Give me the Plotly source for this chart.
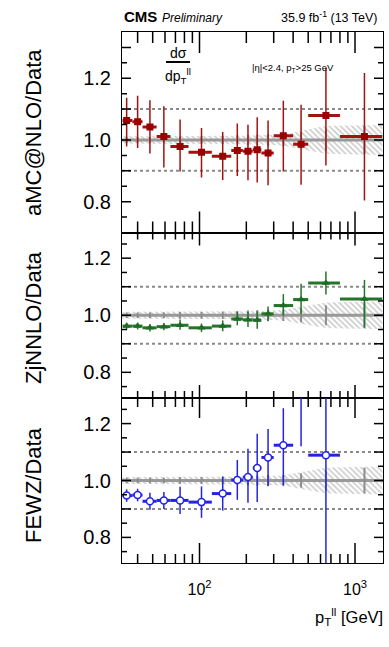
import plotly.graph_objects as go

# ---------------- data ----------------
bin_edges = [32, 37, 43, 53, 65, 85, 120, 160, 190, 220, 250, 300, 400, 500, 800, 1500]
bin_centers = [34, 40, 48, 59, 75, 103, 141, 175, 205, 235, 276, 346, 450, 650, 1150]

amc_ratio = [1.063, 1.059, 1.042, 1.011, 0.979, 0.960, 0.947, 0.966, 0.963, 0.968, 0.958, 1.014, 0.986, 1.079, 1.011]
amc_up = [0.074, 0.084, 0.087, 0.098, 0.087, 0.079, 0.079, 0.087, 0.086, 0.106, 0.105, 0.113, 0.128, 0.154, 0.206]
amc_down = [0.084, 0.085, 0.086, 0.100, 0.081, 0.082, 0.077, 0.083, 0.094, 0.106, 0.105, 0.116, 0.131, 0.162, 0.207]

zj_ratio = [0.962, 0.962, 0.956, 0.960, 0.965, 0.956, 0.962, 0.987, 0.984, 0.983, 1.005, 1.034, 1.055, 1.113, 1.057]
zj_up = [0.012, 0.012, 0.013, 0.013, 0.020, 0.015, 0.020, 0.025, 0.027, 0.030, 0.026, 0.040, 0.055, 0.040, 0.067]
zj_down = [0.012, 0.012, 0.013, 0.013, 0.016, 0.015, 0.018, 0.022, 0.025, 0.030, 0.026, 0.035, 0.050, 0.040, 0.100]

fewz_ratio = [0.947, 0.949, 0.927, 0.930, 0.930, 0.924, 0.954, 1.002, 1.012, 1.044, 1.081, 1.124, 1.350, 1.089, None]
fewz_up = [0.022, 0.022, 0.030, 0.030, 0.048, 0.055, 0.060, 0.070, 0.100, 0.120, 0.100, 0.130, 0.200, 0.450, None]
fewz_down = [0.022, 0.022, 0.030, 0.030, 0.048, 0.055, 0.060, 0.070, 0.090, 0.120, 0.100, 0.140, 0.230, 0.450, None]

data_stat = [0.010, 0.010, 0.010, 0.010, 0.012, 0.012, 0.013, 0.015, 0.017, 0.018, 0.020, 0.020, 0.025, 0.035, 0.045]
data_band = [0.012, 0.012, 0.012, 0.012, 0.012, 0.012, 0.013, 0.013, 0.014, 0.015, 0.016, 0.018, 0.030, 0.045, 0.048]

panel_titles = ["aMC@NLO/Data", "ZjNNLO/Data", "FEWZ/Data"]
x_major_ticks = [100, 1000]
x_major_text = ["10<sup>2</sup>", "10<sup>3</sup>"]
x_minor_ticks = [40, 50, 60, 70, 80, 90, 200, 300, 400, 500, 600, 700, 800, 900]
y_label_vals = [0.8, 1.0, 1.2]
y_major_ticks = [0.8, 0.9, 1.0, 1.1, 1.2, 1.3]
y_minor_ticks = [0.75, 0.85, 0.95, 1.05, 1.15, 1.25]

# ---------------- figure ----------------
W, H = 389, 647
ML, MR, MT, MB = 122, 6, 32, 84
PW = W - ML - MR
PH = H - MT - MB
FONT = "Liberation Sans, Arial, Helvetica, sans-serif"
XRANGE = [1.5016, 3.18]
TICK_COLOR = "black"

fig = go.Figure()

left_err = [c - lo for c, lo in zip(bin_centers, bin_edges[:-1])]
right_err = [hi - c for c, hi in zip(bin_centers, bin_edges[1:])]

band_x = [bin_edges[0]] + bin_centers + [bin_edges[-1]]
band_u = [data_band[0]] + data_band + [data_band[-1]]

series = [
    (amc_ratio, amc_up, amc_down, "#a31212", dict(symbol="square", size=7, color="#9a0000")),
    (zj_ratio, zj_up, zj_down, "#24742a", dict(symbol="triangle-up", size=7, color="#1f6b24")),
    (fewz_ratio, fewz_up, fewz_down, "#2424e0",
     dict(symbol="circle", size=7, color="white", line=dict(color="#2424e0", width=1.5))),
]

ranges = [[0.70, 1.35], [0.71, 1.29], [0.71, 1.29]]
heights_px = [200.5, 165.5, 165]
doms = [[330.5 / PH, 1.0], [165 / PH, 330.5 / PH], [0.0, 165 / PH]]
xtick_len = [(21, 11), (13, 7), (20, 9)]
ytick_len = (9, 5)

for i in range(3):
    xa = "x" if i == 0 else f"x{i+1}"
    ya = "y" if i == 0 else f"y{i+1}"
    r = ranges[i]
    # hatched data uncertainty band
    fig.add_trace(go.Scatter(x=band_x, y=[1 - u for u in band_u], mode="lines",
                             line=dict(width=0), xaxis=xa, yaxis=ya, showlegend=False, hoverinfo="skip"))
    fig.add_trace(go.Scatter(x=band_x, y=[1 + u for u in band_u], mode="lines",
                             line=dict(width=0), fill="tonexty", fillcolor="rgba(0,0,0,0)",
                             fillpattern=dict(shape="\\", fgcolor="#999999", bgcolor="rgba(0,0,0,0)",
                                              size=4, solidity=0.4),
                             xaxis=xa, yaxis=ya, showlegend=False, hoverinfo="skip"))
    # data stat error bars at unity
    fig.add_trace(go.Scatter(x=bin_centers, y=[1.0] * len(bin_centers), mode="markers",
                             marker=dict(size=1, color="rgba(0,0,0,0)"),
                             error_y=dict(type="data", array=data_stat, color="#8c8c8c", thickness=2, width=0),
                             xaxis=xa, yaxis=ya, showlegend=False, hoverinfo="skip"))
    vals, up, dn, col, mk = series[i]
    fig.add_trace(go.Scatter(x=bin_centers, y=vals, mode="markers", marker=mk,
                             error_x=dict(type="data", symmetric=False, array=right_err, arrayminus=left_err,
                                          color=col, thickness=3, width=0),
                             error_y=dict(type="data", symmetric=False, array=up, arrayminus=dn,
                                          color=col, thickness=1.5, width=0),
                             xaxis=xa, yaxis=ya, showlegend=False))

    # reference lines
    for yv, dash, w, c in [(1.0, "solid", 3, "#999999"), (1.1, "dot", 2, "#8a8a8a"), (0.9, "dot", 2, "#8a8a8a")]:
        fig.add_shape(type="line", xref=f"{xa} domain", yref=ya, x0=0, x1=1, y0=yv, y1=yv,
                      line=dict(color=c, width=w, dash=dash), layer="below")

    # tick marks as shapes (ROOT style: inside, on all four sides)
    mj, mn = xtick_len[i]
    hp = heights_px[i]
    for tv, tl in [(x_major_ticks, mj), (x_minor_ticks, mn)]:
        for v in tv:
            for y0, y1 in [(0, tl / hp), (1 - tl / hp, 1)]:
                fig.add_shape(type="line", xref=xa, yref=f"{ya} domain", x0=v, x1=v, y0=y0, y1=y1,
                              line=dict(color=TICK_COLOR, width=1.5), layer="above")
    for tv, tl in [(y_major_ticks, ytick_len[0]), (y_minor_ticks, ytick_len[1])]:
        for v in tv:
            if not (r[0] < v < r[1]):
                continue
            for x0, x1 in [(0, tl / PW), (1 - tl / PW, 1)]:
                fig.add_shape(type="line", xref=f"{xa} domain", yref=ya, x0=x0, x1=x1, y0=v, y1=v,
                              line=dict(color=TICK_COLOR, width=1.5), layer="above")

    xdict = dict(type="log", range=XRANGE, domain=[0, 1], anchor=ya,
                 showline=True, linecolor="black", linewidth=1, mirror=True,
                 ticks="", tickmode="array", tickvals=x_major_ticks, ticktext=x_major_text,
                 showgrid=False, zeroline=False,
                 showticklabels=(i == 2), tickfont=dict(family=FONT, size=16, color="black"),
                 ticklabelstandoff=12)
    ydict = dict(range=r, domain=doms[i], anchor=xa,
                 showline=True, linecolor="black", linewidth=1, mirror=True,
                 ticks="", tickmode="array", tickvals=y_label_vals, ticktext=[f"{v:.1f}" for v in y_label_vals],
                 showgrid=False, zeroline=False,
                 tickfont=dict(family=FONT, size=20, color="black"), ticklabelstandoff=6)
    fig.update_layout(**{("xaxis" if i == 0 else f"xaxis{i+1}"): xdict,
                         ("yaxis" if i == 0 else f"yaxis{i+1}"): ydict})

# ---------------- annotations ----------------
def px2paper_x(px):
    return (px - ML) / PW

def px2paper_y(py):
    return (H - MB - py) / PH

centers_y = [133, 318, 485]
ann = []
for t, cy in zip(panel_titles, centers_y):
    ann.append(dict(text=t, x=px2paper_x(33), y=px2paper_y(cy), xref="paper", yref="paper",
                    textangle=-90, showarrow=False, xanchor="center", yanchor="middle",
                    font=dict(family=FONT, size=22, color="black")))

ann += [
    dict(text="<b>CMS</b>", x=px2paper_x(122), y=px2paper_y(17), xanchor="left", yanchor="middle",
         font=dict(family=FONT, size=15, color="black")),
    dict(text="<i>Preliminary</i>", x=px2paper_x(160), y=px2paper_y(18), xanchor="left", yanchor="middle",
         font=dict(family=FONT, size=12, color="black")),
    dict(text="35.9 fb<sup>-1</sup> (13 TeV)", x=px2paper_x(380), y=px2paper_y(17), xanchor="right",
         yanchor="middle", font=dict(family=FONT, size=12.5, color="black")),
    dict(text="dσ", x=px2paper_x(178), y=px2paper_y(53), xanchor="center", yanchor="middle",
         font=dict(family=FONT, size=14, color="black")),
    dict(text="dp<sub>T</sub><sup>ll</sup>", x=px2paper_x(178), y=px2paper_y(76), xanchor="center",
         yanchor="middle", font=dict(family=FONT, size=14, color="black")),
    dict(text="|η|<2.4, p<sub>T</sub>>25 GeV", x=px2paper_x(293), y=px2paper_y(68), xanchor="center",
         yanchor="middle", font=dict(family=FONT, size=9.5, color="black")),
    dict(text="p<sub>T</sub><sup>ll</sup> [GeV]", x=px2paper_x(385), y=px2paper_y(617), xanchor="right",
         yanchor="middle", font=dict(family=FONT, size=16.5, color="black")),
]
for a in ann:
    a.setdefault("xref", "paper")
    a.setdefault("yref", "paper")
    a.setdefault("showarrow", False)

fig.add_shape(type="line", xref="paper", yref="paper", x0=px2paper_x(166), x1=px2paper_x(190),
              y0=px2paper_y(62), y1=px2paper_y(62), line=dict(color="black", width=2))

fig.update_layout(width=W, height=H, margin=dict(l=ML, r=MR, t=MT, b=MB, pad=0),
                  paper_bgcolor="white", plot_bgcolor="white", annotations=ann,
                  font=dict(family=FONT, color="black"), showlegend=False)

fig.write_html("out.html", config={"displayModeBar": False})
